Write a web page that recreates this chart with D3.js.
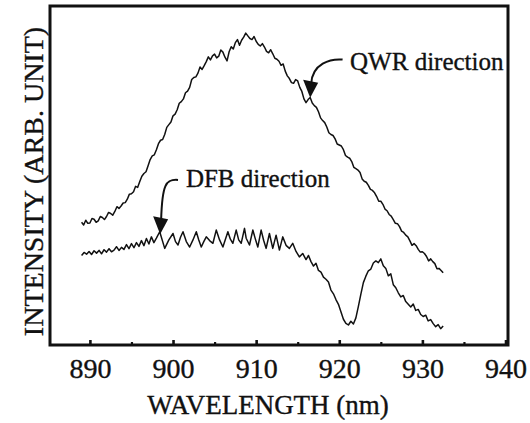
<!DOCTYPE html>
<html>
<head>
<meta charset="utf-8">
<script src="https://cdn.jsdelivr.net/npm/d3@7/dist/d3.min.js"></script>
<style>
	body { margin: 0; background: #fff; }
	svg { display: block; }
	svg text { font-family: 'Liberation Serif', 'DejaVu Serif', serif; fill: #111; stroke: #111; stroke-width: 0.35px; }
</style>
</head>
<body>
<svg></svg>
<script>
// wavelength (nm), intensity (arb. unit, 0-100 of the frame height)
const qwrData = [
	[889.00, 36.2], [889.25, 35.4], [889.50, 36.8], [889.75, 35.9], [890.00, 36.0], [890.25, 37.3],
	[890.50, 37.1], [890.75, 36.2], [891.00, 36.6], [891.25, 37.9], [891.50, 37.6], [891.75, 37.0],
	[892.00, 37.9], [892.25, 39.1], [892.50, 38.8], [892.75, 38.3], [893.00, 39.4], [893.25, 40.8],
	[893.50, 40.3], [893.75, 41.0], [894.00, 41.9], [894.25, 42.0], [894.50, 43.0], [894.75, 44.5],
	[895.00, 44.6], [895.25, 45.2], [895.50, 46.8], [895.75, 46.5], [896.00, 48.2], [896.25, 49.8],
	[896.50, 50.6], [896.75, 51.1], [897.00, 52.9], [897.25, 54.7], [897.50, 55.8], [897.75, 56.1],
	[898.00, 57.6], [898.25, 59.4], [898.50, 60.4], [898.75, 60.6], [899.00, 62.1], [899.25, 64.2],
	[899.50, 65.0], [899.75, 65.8], [900.00, 67.6], [900.25, 68.1], [900.50, 69.4], [900.75, 71.3],
	[901.00, 71.8], [901.25, 72.6], [901.50, 74.4], [901.75, 74.9], [902.00, 76.0], [902.25, 78.3],
	[902.50, 78.9], [902.75, 79.1], [903.00, 80.2], [903.25, 82.0], [903.50, 81.3], [903.75, 82.4],
	[904.00, 83.6], [904.25, 85.0], [904.50, 84.1], [904.75, 85.3], [905.00, 85.8], [905.25, 84.7],
	[905.50, 85.2], [905.75, 87.0], [906.00, 86.4], [906.25, 84.9], [906.50, 83.8], [906.75, 86.5],
	[907.00, 88.0], [907.25, 87.3], [907.50, 89.2], [907.75, 90.1], [908.00, 88.4], [908.25, 89.9],
	[908.50, 90.8], [908.75, 92.0], [909.00, 91.2], [909.25, 90.4], [909.50, 90.1], [909.75, 91.0],
	[910.00, 89.6], [910.25, 88.7], [910.50, 88.2], [910.75, 88.9], [911.00, 87.9], [911.25, 86.6],
	[911.50, 86.2], [911.75, 87.1], [912.00, 85.9], [912.25, 84.6], [912.50, 84.3], [912.75, 83.7],
	[913.00, 82.5], [913.25, 82.9], [913.50, 80.8], [913.75, 79.4], [914.00, 78.6], [914.25, 77.4],
	[914.50, 77.2], [914.75, 78.3], [915.00, 77.9], [915.25, 76.0], [915.50, 74.8], [915.75, 72.6],
	[916.00, 71.5], [916.25, 72.4], [916.50, 73.0], [916.75, 71.4], [917.00, 70.6], [917.25, 70.1],
	[917.50, 68.8], [917.75, 67.0], [918.00, 66.2], [918.25, 65.6], [918.50, 64.3], [918.75, 62.6],
	[919.00, 62.1], [919.25, 61.8], [919.50, 60.8], [919.75, 59.3], [920.00, 59.0], [920.25, 58.7],
	[920.50, 57.6], [920.75, 55.9], [921.00, 55.4], [921.25, 55.1], [921.50, 54.1], [921.75, 52.4],
	[922.00, 52.0], [922.25, 51.6], [922.50, 50.9], [922.75, 49.0], [923.00, 48.3], [923.25, 48.0],
	[923.50, 47.1], [923.75, 45.9], [924.00, 45.6], [924.25, 44.9], [924.50, 43.8], [924.75, 42.4],
	[925.00, 42.4], [925.25, 41.5], [925.50, 40.1], [925.75, 39.6], [926.00, 38.5], [926.25, 38.0],
	[926.50, 37.0], [926.75, 35.9], [927.00, 35.8], [927.25, 34.9], [927.50, 33.6], [927.75, 33.2],
	[928.00, 32.4], [928.25, 31.9], [928.50, 30.7], [928.75, 29.4], [929.00, 29.9], [929.25, 29.3],
	[929.50, 28.2], [929.75, 27.4], [930.00, 27.5], [930.25, 27.0], [930.50, 26.1], [930.75, 24.8],
	[931.00, 25.4], [931.25, 24.6], [931.50, 24.0], [931.75, 22.5], [932.00, 22.6], [932.25, 22.0],
	[932.50, 21.3]
];

const dfbData = [
	[889.0, 26.4], [889.3, 27.3], [889.6, 26.8], [889.9, 27.6], [890.2, 26.7], [890.5, 27.8],
	[890.8, 27.1], [891.1, 27.9], [891.4, 26.9], [891.7, 28.1], [892.0, 27.4], [892.3, 28.4],
	[892.6, 27.5], [892.9, 28.0], [893.2, 29.0], [893.5, 27.9], [893.8, 28.8], [894.1, 28.2],
	[894.4, 29.6], [894.7, 28.4], [895.0, 29.9], [895.3, 28.7], [895.6, 30.2], [895.9, 29.1],
	[896.2, 30.8], [896.5, 29.3], [896.8, 31.4], [897.1, 29.8], [897.4, 31.9], [897.7, 30.2],
	[898.0, 31.5], [898.4, 33.4], [899.0, 28.5], [899.5, 31.0], [900.0, 32.9], [900.3, 30.5],
	[900.6, 29.5], [900.9, 31.8], [901.2, 33.4], [901.6, 30.5], [902.0, 28.9], [902.4, 31.0],
	[902.8, 33.4], [903.1, 31.0], [903.4, 28.9], [903.7, 30.5], [904.0, 31.9], [904.4, 30.8],
	[904.8, 30.0], [905.2, 33.9], [905.6, 31.0], [906.0, 28.9], [906.6, 33.4], [906.9, 31.2],
	[907.2, 30.0], [907.6, 33.9], [907.9, 31.0], [908.2, 30.0], [908.6, 34.4], [908.8, 31.5],
	[909.2, 29.5], [909.6, 33.9], [909.9, 31.3], [910.2, 28.9], [910.6, 33.9], [910.9, 30.9],
	[911.2, 28.5], [911.6, 32.9], [912.0, 28.5], [912.4, 32.4], [912.8, 28.0], [913.2, 31.9],
	[913.6, 29.4], [914.0, 28.5], [914.4, 30.0], [914.8, 27.6], [915.2, 26.0], [915.6, 27.0],
	[916.0, 25.2], [916.3, 26.4], [916.6, 24.6], [916.9, 23.3], [917.2, 24.1], [917.5, 22.0],
	[917.8, 21.5], [918.1, 20.0], [918.4, 19.4], [918.7, 18.6], [919.0, 16.2], [919.3, 15.1],
	[919.6, 13.4], [919.9, 12.0], [920.2, 9.8], [920.5, 7.6], [920.8, 6.4], [921.1, 5.9],
	[921.4, 7.0], [921.7, 6.2], [922.0, 8.0], [922.3, 11.4], [922.6, 15.0], [922.9, 18.4],
	[923.2, 20.3], [923.5, 21.9], [923.8, 22.4], [924.1, 24.2], [924.4, 24.8], [924.7, 24.3],
	[925.0, 25.4], [925.3, 23.4], [925.6, 22.6], [925.9, 20.4], [926.2, 21.0], [926.5, 17.8],
	[926.8, 16.9], [927.1, 15.4], [927.4, 14.2], [927.7, 14.6], [928.0, 12.8], [928.3, 12.0],
	[928.6, 11.2], [928.9, 12.1], [929.2, 10.2], [929.5, 10.5], [929.8, 9.0], [930.1, 8.4],
	[930.4, 8.8], [930.7, 7.1], [931.0, 7.5], [931.3, 6.3], [931.6, 5.4], [931.9, 6.0],
	[932.2, 4.8], [932.5, 5.6]
];

const majorTicks = [890, 900, 910, 920, 930, 940];
const minorTicks = [895, 905, 915, 925, 935];

// annotations: label anchor, arrow start, arrow tip (data units)
const annotations = [
	{ "text": "QWR direction", "label": [921.3, 81.1], "from": [920.4, 84.2], "to": [916.5, 72.9] },
	{ "text": "DFB direction", "label": [901.55, 46.6], "from": [900.6, 48.7], "to": [898.45, 32.7] }
];

const margin = {
	"top": 6,
	"right": 22,
	"bottom": 78,
	"left": 50
}

const width = 530 - margin.left - margin.right;
const height = 423 - margin.top - margin.bottom;

function draw(){
	let svg = d3.select("svg")
		.attr('width', '530px')
		.attr('height', '423px');

	let scaleX = d3.scaleLinear()
		.domain([885.2, 940.3])
		.range([0, width]);

	let scaleY = d3.scaleLinear()
		.domain([0, 100])
		.range([height, 0]);

	let g = svg.append('g')
		.attr('transform', 'translate(' + margin.left + ',' + margin.top + ')');

	// minor ticks (no labels)
	g.append('g')
		.attr('transform', 'translate(0,' + height + ')')
		.call(d3.axisBottom(scaleX).tickValues(minorTicks).tickSize(-3).tickSizeOuter(0).tickFormat(''))
		.call(a => a.select('.domain').remove())
		.selectAll('line').attr('stroke', '#111').attr('stroke-width', 2.2);

	// major ticks with labels
	let xAxis = g.append('g')
		.attr('transform', 'translate(0,' + height + ')')
		.call(d3.axisBottom(scaleX).tickValues(majorTicks).tickSize(-5).tickSizeOuter(0).tickPadding(13).tickFormat(d3.format('d')));
	xAxis.attr('font-family', null);
	xAxis.select('.domain').remove();
	xAxis.selectAll('line').attr('stroke', '#111').attr('stroke-width', 2.6);
	xAxis.selectAll('text')
		.attr('font-size', 28)
		.attr('fill', '#111');

	// frame
	g.append('rect')
		.attr('x', 0)
		.attr('y', 0)
		.attr('width', width)
		.attr('height', height)
		.attr('fill', 'none')
		.attr('stroke', '#111')
		.attr('stroke-width', 3);

	let line = d3.line()
		.x(d => scaleX(d[0]))
		.y(d => scaleY(d[1]));

	[qwrData, dfbData].forEach(series => {
		g.append('path')
			.datum(series)
			.attr('d', line)
			.attr('fill', 'none')
			.attr('stroke', '#111')
			.attr('stroke-width', 1.5)
			.attr('stroke-linejoin', 'round');
	});

	// arrows + labels
	annotations.forEach(a => {
		let x0 = scaleX(a.from[0]), y0 = scaleY(a.from[1]);
		let x1 = scaleX(a.to[0]), y1 = scaleY(a.to[1]);
		let baseY = y1 - 16;
		let baseX = x1 + 1;
		g.append('path')
			.attr('d', 'M' + x0 + ',' + y0 + ' C' + (x0 - 12) + ',' + (y0 - 1) + ' ' + (baseX + 1) + ',' + (y0 + 4) + ' ' + baseX + ',' + (baseY + 2))
			.attr('fill', 'none')
			.attr('stroke', '#111')
			.attr('stroke-width', 2);
		g.append('path')
			.attr('d', 'M' + (baseX - 8) + ',' + (baseY - 2) + ' L' + (baseX + 7) + ',' + (baseY + 1) + ' L' + x1 + ',' + y1 + 'Z')
			.attr('fill', '#111');
		g.append('text')
			.attr('x', scaleX(a.label[0]))
			.attr('y', scaleY(a.label[1]))
			.attr('font-size', 25)
			.text(a.text);
	});

	// axis titles
	svg.append('text')
		.attr('x', 268)
		.attr('y', 414)
		.attr('text-anchor', 'middle')
		.attr('font-size', 27)
		.text('WAVELENGTH (nm)');

	svg.append('text')
		.attr('transform', 'translate(43,' + (margin.top + height / 2 + 6) + ') rotate(-90)')
		.attr('text-anchor', 'middle')
		.attr('font-size', 28)
		.text('INTENSITY (ARB. UNIT)');
}

draw();
</script>
</body>
</html>
